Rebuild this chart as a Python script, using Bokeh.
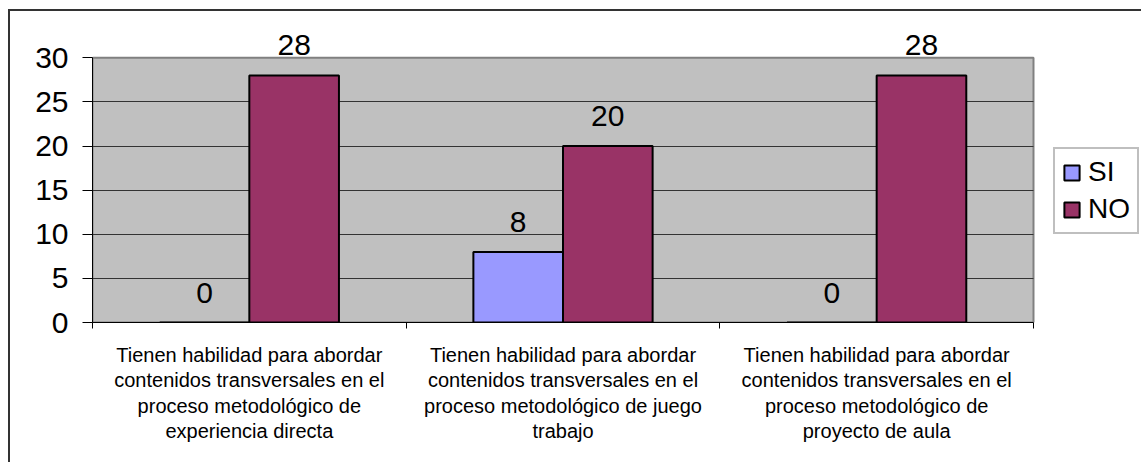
from bokeh.plotting import figure
from bokeh.models import FixedTicker, Legend, LegendItem, LabelSet, ColumnDataSource, Range1d
from bokeh.core.properties import value
from bokeh.embed import file_html
from bokeh.resources import INLINE

categories = [
    "Tienen habilidad para abordar\ncontenidos transversales en el\nproceso metodológico de\nexperiencia directa",
    "Tienen habilidad para abordar\ncontenidos transversales en el\nproceso metodológico de juego\ntrabajo",
    "Tienen habilidad para abordar\ncontenidos transversales en el\nproceso metodológico de\nproyecto de aula",
]
series = ["SI", "NO"]
si_values = [0, 8, 0]
no_values = [28, 20, 28]
y_ticks = [0, 5, 10, 15, 20, 25, 30]
colors = {"SI": "#9999FF", "NO": "#993366"}

FONT = "Liberation Sans"
n = len(categories)
bw = 1 / 3.5
centers = [i + 0.5 for i in range(n)]
ymax = y_ticks[-1]

# frame spans to the right edge so the legend is not clipped;
# the gray plot area covers only 0..n
FRAME_W = 1051      # px (92 -> 1143)
AREA_W = 941        # px of gray plot area
xend = n * FRAME_W / AREA_W

p = figure(width=1133, height=453, x_range=Range1d(0, xend), y_range=Range1d(0, 34),
           output_backend="svg", toolbar_location=None,
           min_border_left=82, min_border_right=0, min_border_top=11, min_border_bottom=142)
p.styles = {"margin-left": "8px", "margin-top": "9px",
            "border-left": "2px solid #333333", "border-top": "2px solid #333333"}
p.background_fill_color = "white"
p.border_fill_color = "white"
p.outline_line_color = None

p.quad(left=[0], right=[n], bottom=[0], top=[ymax], fill_color="#C0C0C0",
       line_color="#808080", line_width=2, level="image")

p.xgrid.visible = False
p.ygrid.ticker = FixedTicker(ticks=y_ticks[1:-1])
p.ygrid.cross_bounds = (0, n)
p.ygrid.grid_line_color = "#333333"
p.ygrid.grid_line_width = 1

# y axis
p.yaxis.ticker = FixedTicker(ticks=y_ticks)
p.yaxis.bounds = (0, ymax)
p.yaxis.major_tick_out = 10
p.yaxis.major_tick_in = 0
p.yaxis.minor_tick_line_color = None
p.yaxis.axis_line_color = "black"
p.yaxis.major_tick_line_color = "black"
p.yaxis.major_label_text_font = FONT
p.yaxis.major_label_text_font_size = "30px"
p.yaxis.major_label_text_color = "black"
p.yaxis.major_label_standoff = 14

# x axis
p.xaxis.ticker = FixedTicker(ticks=centers, minor_ticks=list(range(n + 1)))
p.xaxis.bounds = (0, n)
p.xaxis.major_label_overrides = {c: lab for c, lab in zip(centers, categories)}
p.xaxis.major_tick_out = 0
p.xaxis.major_tick_in = 0
p.xaxis.minor_tick_out = 6
p.xaxis.minor_tick_in = 0
p.xaxis.minor_tick_line_color = "black"
p.xaxis.axis_line_color = "black"
p.xaxis.major_label_text_font = FONT
p.xaxis.major_label_text_font_size = "20px"
p.xaxis.major_label_text_color = "black"
p.xaxis.major_label_text_line_height = 1.16
p.xaxis.major_label_standoff = 15

si_x = [c - bw / 2 for c in centers]
no_x = [c + bw / 2 for c in centers]
src_si = ColumnDataSource(dict(x=si_x, y=si_values, t=[str(v) for v in si_values]))
src_no = ColumnDataSource(dict(x=no_x, y=no_values, t=[str(v) for v in no_values]))

r_si = p.vbar(x="x", top="y", width=bw, source=src_si, fill_color=colors["SI"],
              line_color="black", line_width=2)
r_no = p.vbar(x="x", top="y", width=bw, source=src_no, fill_color=colors["NO"],
              line_color="black", line_width=2)

for src in (src_si, src_no):
    p.add_layout(LabelSet(x="x", y="y", text="t", source=src, text_align="center",
                          text_baseline="alphabetic", y_offset=20, text_font=value(FONT),
                          text_font_size="30px", text_color="black"))

legend = Legend(items=[LegendItem(label=series[0], renderers=[r_si]),
                       LegendItem(label=series[1], renderers=[r_no])],
                location=(961, 88))
legend.label_text_font = FONT
legend.label_text_font_size = "28px"
legend.label_text_color = "black"
legend.glyph_width = 19
legend.glyph_height = 19
legend.label_standoff = 7
legend.padding = 7
legend.spacing = 5
legend.margin = 0
legend.border_line_color = "#808080"
legend.border_line_width = 2
legend.background_fill_color = "white"
legend.background_fill_alpha = 1
p.add_layout(legend, "center")

open("out.html", "w").write(file_html(p, INLINE))
